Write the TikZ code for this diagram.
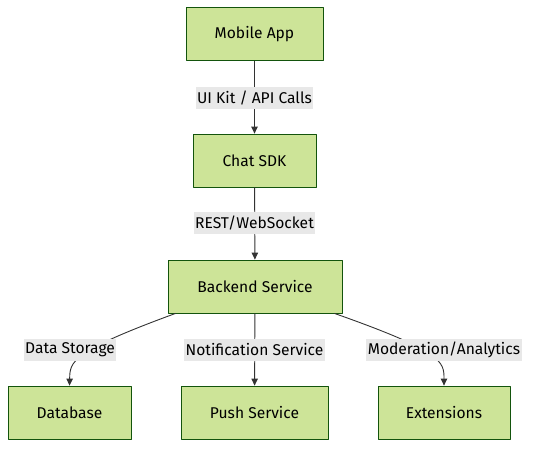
\documentclass[tikz,border=0pt]{standalone}
\usepackage{fontspec}
\setmainfont{Fira Sans}
\usetikzlibrary{arrows.meta}
\definecolor{boxfill}{HTML}{CDE498}
\definecolor{boxline}{HTML}{13540C}
\definecolor{edgeline}{HTML}{333333}
\definecolor{labelbg}{HTML}{E8E8E8}
\tikzset{
	box/.style={draw=boxline, fill=boxfill, line width=0.8pt, minimum height=53pt, inner sep=0pt},
	lab/.style={fill=labelbg, inner xsep=1.5pt, minimum height=22pt, inner ysep=0pt},
	link/.style={draw=edgeline, line width=0.9pt, -{Triangle[length=7pt,width=6.5pt]}}
}
\begin{document}
\begin{tikzpicture}[x=1pt, y=-1pt, font=\fontsize{15.6}{18}\selectfont, line join=round]
	\useasboundingbox (0,0) rectangle (536,454);
	% Các khối
	\node[box, minimum width=137pt] (A) at (254.5,34) {Mobile App};
	\node[box, minimum width=123pt] (S) at (254.5,160.5) {Chat SDK};
	\node[box, minimum width=174pt] (B) at (255,286.5) {Backend Service};
	\node[box, minimum width=123pt] (D) at (69.5,412.5) {Database};
	\node[box, minimum width=147pt] (P) at (254.5,412.5) {Push Service};
	\node[box, minimum width=132pt] (E) at (444,412.5) {Extensions};
	% Các mũi tên
	\draw[link] (A) -- (S);
	\draw[link] (S) -- (B);
	\draw[link] (B) -- (P);
	\draw[link] ([xshift=8pt]B.south west) .. controls (70,352) and (70,362) .. (D.north);
	\draw[link] ([xshift=-8pt]B.south east) .. controls (444,352) and (444,362) .. (E.north);
	% Nhãn
	\node[lab] (l1) at (254.5,98) {UI Kit / API Calls};
	\node[lab] (l2) at (254.5,223) {REST/WebSocket};
	\node[lab] (l3) at (70,350) {Data Storage};
	\node[lab] (l4) at (254.5,350) {Notification Service};
	\node[lab] (l5) at (444,350) {Moderation/Analytics};
\end{tikzpicture}
\end{document}
